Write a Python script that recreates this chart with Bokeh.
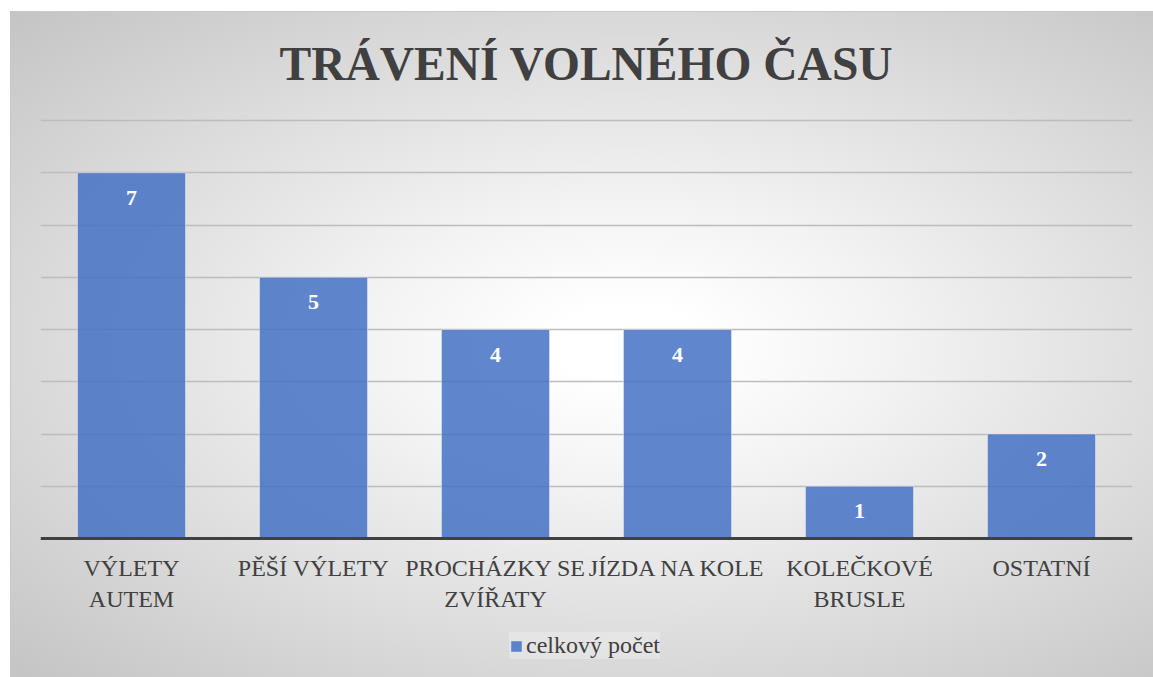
from bokeh.plotting import figure
from bokeh.models import ColumnDataSource, LabelSet, Legend, LegendItem, FixedTicker
from bokeh.embed import file_html
from bokeh.resources import INLINE

categories = ["VÝLETY AUTEM", "PĚŠÍ VÝLETY", "PROCHÁZKY SE ZVÍŘATY", "JÍZDA NA KOLE", "KOLEČKOVÉ BRUSLE", "OSTATNÍ"]
tick_labels = ["VÝLETY\nAUTEM", "PĚŠÍ VÝLETY", "PROCHÁZKY SE\nZVÍŘATY", "JÍZDA NA KOLE", "KOLEČKOVÉ\nBRUSLE", "OSTATNÍ"]
values = [7, 5, 4, 4, 1, 2]
series_name = "celkový počet"
title_text = "TRÁVENÍ VOLNÉHO ČASU"
y_ticks = [0, 1, 2, 3, 4, 5, 6, 7, 8]

SERIF = "Liberation Serif"
TXT = "#404040"

src = ColumnDataSource(dict(cat=tick_labels, name=categories, val=values, lab=[str(v) for v in values]))

p = figure(frame_width=1092, frame_height=562, x_range=tick_labels, y_range=(-2.66, 8.096),
           output_backend="svg", toolbar_location=None,
           min_border_left=40, min_border_right=21, min_border_top=115, min_border_bottom=0)
p.background_fill_color = None
p.border_fill_color = None
p.outline_line_color = None
line = "linear-gradient(#c8c8c8, #c8c8c8)"
p.styles = {
    "background": (
        f"{line} 10px 11px / 100% 1px no-repeat, "
        f"{line} 10px 11px / 1px 100% no-repeat, "
        "radial-gradient(ellipse farthest-corner at 54% 50%, #ffffff 8%, #f3f3f3 30%, #c4c4c4 100%) "
        "10px 11px / calc(100% - 10px) calc(100% - 11px) no-repeat, #ffffff"
    ),
}

p.title.text = title_text
p.title.align = "center"
p.title.text_font = SERIF
p.title.text_font_size = "47.5px"
p.title.text_font_style = "bold"
p.title.text_color = TXT
p.title.standoff = 52

r = p.vbar(x="cat", top="val", bottom=0, width=0.594, source=src,
           fill_color="#4472C4", fill_alpha=0.85,
           line_color="#ffffff", line_alpha=0.45, line_width=1)

labels = LabelSet(x="cat", y="val", text="lab", source=src, y_offset=-25,
                  text_align="center", text_baseline="middle",
                  text_font=SERIF, text_font_size="22px", text_font_style="bold",
                  text_color="#ffffff")
p.add_layout(labels)

p.yaxis.visible = False
p.ygrid.ticker = FixedTicker(ticks=y_ticks)
p.ygrid.grid_line_color = "#bdbdbd"
p.ygrid.grid_line_width = 1.5
p.xgrid.grid_line_color = None

ax = p.xaxis[0]
ax.fixed_location = 0
ax.axis_line_color = TXT
ax.axis_line_width = 3
ax.major_tick_line_color = None
ax.minor_tick_line_color = None
ax.major_label_standoff = 10
ax.major_label_text_font = SERIF
ax.major_label_text_font_size = "24px"
ax.major_label_text_color = TXT
ax.major_label_text_align = "center"

legend = Legend(items=[LegendItem(label=series_name, renderers=[r])],
                orientation="horizontal", location=(469, 18),
                label_text_font=SERIF, label_text_font_size="24px", label_text_color=TXT,
                glyph_width=14, glyph_height=14, label_standoff=3,
                background_fill_color="#ffffff", background_fill_alpha=0.25,
                border_line_color=None, margin=0, padding=8)
p.add_layout(legend)

open("out.html", "w").write(file_html(p, INLINE))
